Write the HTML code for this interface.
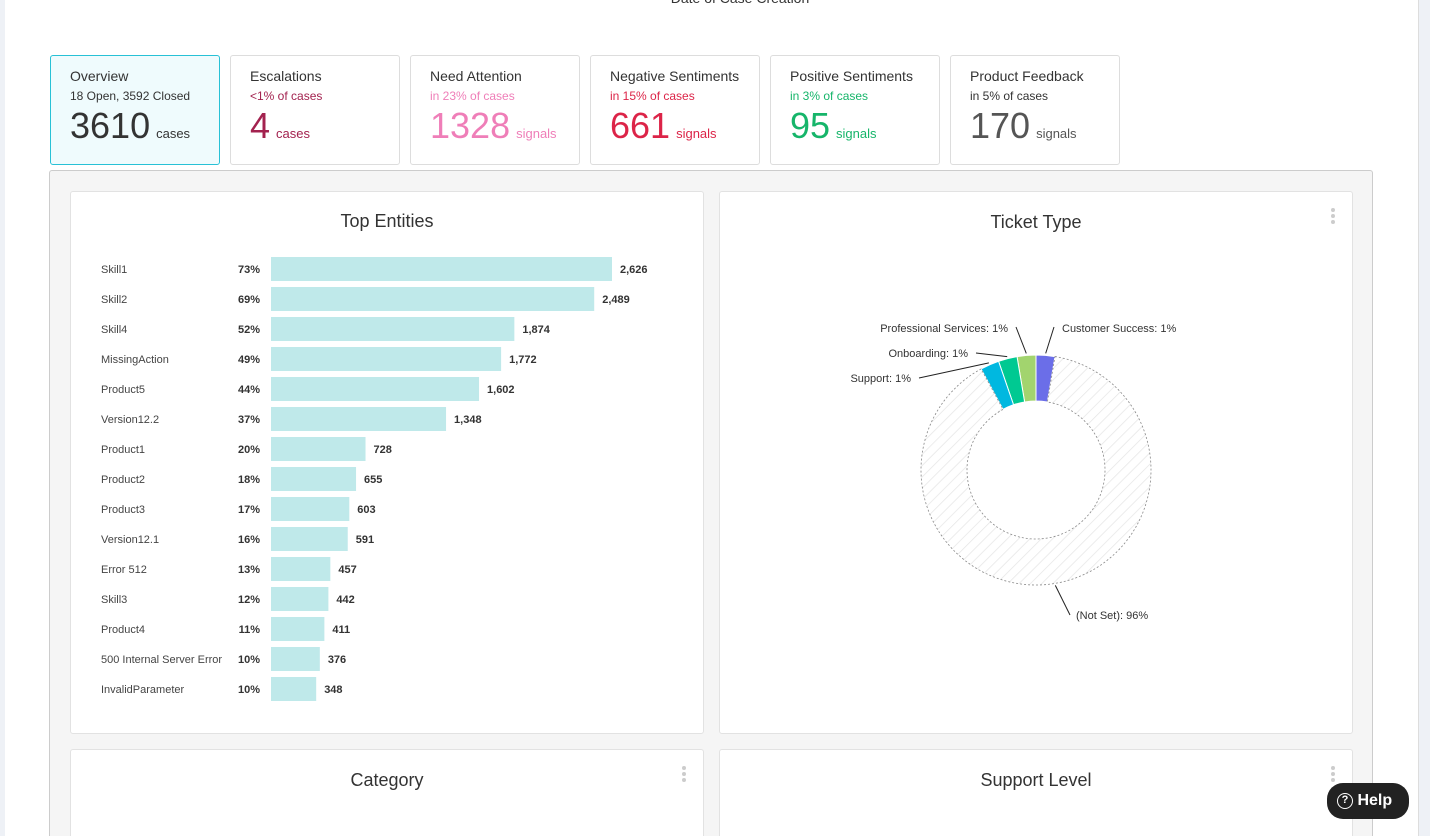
<!DOCTYPE html>
<html style="width:1430px;height:836px;overflow:hidden"><head><meta charset="utf-8">
<style>
*{box-sizing:border-box;margin:0;padding:0}
html,body{width:1430px;height:836px;overflow:hidden}
body{background:#fff;font-family:"Liberation Sans",sans-serif;position:relative;color:#333}
.abs{position:absolute}
.kpi{position:absolute;top:55px;width:170px;height:110px;border:1px solid #ddd;border-radius:3px;background:#fff;padding:12px 0 0 19px}
.kpi .t{font-size:14px;color:#333}
.kpi .s{font-size:12px;margin-top:5px}
.kpi .v{margin-top:3px;font-size:36px;line-height:40px}
.kpi .v span{font-size:13px;margin-left:6px}
.card{position:absolute;background:#fff;border:1px solid #e2e2e2;border-radius:3px}
.ct{position:absolute;width:100%;text-align:center;font-size:18px;color:#333}
.dots{position:absolute;width:4px}
.dots i{display:block;width:4px;height:4px;border-radius:2px;background:#ccc;margin-bottom:2px}
</style></head><body>
<div class="abs" style="left:0;top:0;width:5px;height:836px;background:#eef1f6"></div>
<div class="abs" style="left:1418px;top:0;width:12px;height:836px;background:#eef1f6;border-left:1px solid #ddd"></div>
<div class="abs" style="left:640px;top:-10px;width:200px;text-align:center;font-size:14px">Date of Case Creation</div>

<div class="kpi" style="left:50px;background:#effbfd;border-color:#28c1d6"><div class="t">Overview</div><div class="s" style="color:#333">18 Open, 3592 Closed</div><div class="v" style="color:#333">3610<span>cases</span></div></div>
<div class="kpi" style="left:230px"><div class="t">Escalations</div><div class="s" style="color:#a3224f">&lt;1% of cases</div><div class="v" style="color:#a3224f">4<span>cases</span></div></div>
<div class="kpi" style="left:410px"><div class="t">Need Attention</div><div class="s" style="color:#ef7eb8">in 23% of cases</div><div class="v" style="color:#ef7eb8">1328<span>signals</span></div></div>
<div class="kpi" style="left:590px"><div class="t">Negative Sentiments</div><div class="s" style="color:#dc2448">in 15% of cases</div><div class="v" style="color:#dc2448">661<span>signals</span></div></div>
<div class="kpi" style="left:770px"><div class="t">Positive Sentiments</div><div class="s" style="color:#16b56a">in 3% of cases</div><div class="v" style="color:#16b56a">95<span>signals</span></div></div>
<div class="kpi" style="left:950px"><div class="t">Product Feedback</div><div class="s" style="color:#333">in 5% of cases</div><div class="v" style="color:#555">170<span>signals</span></div></div>

<div class="abs" style="left:49px;top:170px;width:1324px;height:666px;background:#f5f5f5;border:1px solid #ccc;border-bottom:none;border-radius:3px 3px 0 0"></div>

<div class="card" style="left:70px;top:191px;width:634px;height:543px">
<div class="ct" style="top:19px">Top Entities</div>
<svg id="bars" width="634" height="543" style="position:absolute;left:-1px;top:0"></svg>
</div>

<div class="card" style="left:719px;top:191px;width:634px;height:543px">
<div class="ct" style="top:20px">Ticket Type</div>
<div class="dots" style="left:611px;top:16px"><i></i><i></i><i></i></div>
<svg id="donut" width="634" height="543" style="position:absolute;left:0;top:0"></svg>
</div>

<div class="card" style="left:70px;top:749px;width:634px;height:120px">
<div class="ct" style="top:20px">Category</div>
<div class="dots" style="left:611px;top:16px"><i></i><i></i><i></i></div>
</div>
<div class="card" style="left:719px;top:749px;width:634px;height:120px">
<div class="ct" style="top:20px">Support Level</div>
<div class="dots" style="left:611px;top:16px"><i></i><i></i><i></i></div>
</div>

<div class="abs" style="left:1327px;top:783px;width:82px;height:36px;border-radius:16px;background:#222;color:#fff;font-size:16px;font-weight:bold;line-height:36px;padding-left:10px">
<span style="display:inline-block;width:16px;height:16px;border:1.5px solid #fff;border-radius:50%;font-size:11px;line-height:13px;text-align:center;vertical-align:2px">?</span> Help</div>

<script>
const entityLabels=["Skill1","Skill2","Skill4","MissingAction","Product5","Version12.2","Product1","Product2","Product3","Version12.1","Error 512","Skill3","Product4","500 Internal Server Error","InvalidParameter"];
const entityPercents=["73%","69%","52%","49%","44%","37%","20%","18%","17%","16%","13%","12%","11%","10%","10%"];
const entityCounts=[2626,2489,1874,1772,1602,1348,728,655,603,591,457,442,411,376,348];

const ticketLabels=["Customer Success","Professional Services","Onboarding","Support","(Not Set)"];
const ticketValues=[1,1,1,1,96];
const ticketPercents=["1%","1%","1%","1%","96%"];

const NS="http://www.w3.org/2000/svg";
function mk(p,t,a){const e=document.createElementNS(NS,t);for(const k in a)e.setAttribute(k,a[k]);p.appendChild(e);return e;}
const bs=document.getElementById('bars');
const x0=201, maxW=341, maxV=Math.max(...entityCounts);
const xs=v=>v/maxV*maxW;
const ys=i=>77+i*30;
entityLabels.forEach((l,i)=>{
  const y=ys(i);
  let t=mk(bs,'text',{x:31,y:y+4,'font-size':11,fill:'#444'});t.textContent=l;
  
  
  t=mk(bs,'text',{x:190,y:y+4,'font-size':11,'font-weight':'bold',fill:'#333','text-anchor':'end'});t.textContent=entityPercents[i];
  
  
  const w=xs(entityCounts[i]);
  const r=mk(bs,'rect',{x:x0,y:y-12,width:w,height:24,fill:'#bfe9ea'});
  
  
  t=mk(bs,'text',{x:x0+w+8,y:y+4,'font-size':11,'font-weight':'bold',fill:'#333'});t.textContent=entityCounts[i].toLocaleString('en-US');
  
  
});
const ds=document.getElementById('donut');
const defs=mk(ds,'defs',{});
const pat=mk(defs,'pattern',{id:'hatch',width:8,height:8,patternUnits:'userSpaceOnUse',patternTransform:'rotate(45)'});
mk(pat,'line',{x1:0,y1:0,x2:0,y2:8,stroke:'#e6e6e6','stroke-width':1.5});
const cx=316,cy=278,R=115,r0=69;
const colors=["#6b6ee8","#a2d46e","#00c992","#00b8e0","url(#hatch)"];
const total=ticketValues.reduce((a,b)=>a+b,0);
const minA=9.5;
const small=ticketValues.map(v=>v/total*360<minA?minA:null);
const usedSmall=small.reduce((a,b)=>a+(b||0),0);
const bigTot=ticketValues.reduce((a,v,i)=>a+(small[i]?0:v),0);
const angs=ticketValues.map((v,i)=>small[i]||v/bigTot*(360-usedSmall));
function pt(a,rad){const t=(a-90)*Math.PI/180;return [cx+rad*Math.cos(t),cy+rad*Math.sin(t)];}
let starts=[];
starts[0]=0;
let cc=0;
for(let i=1;i<4;i++){cc-=angs[i];starts[i]=cc;}
starts[4]=angs[0];
const labelPos=[[342,140,'start'],[288,140,'end'],[248,165,'end'],[191,190,'end'],[356,427,'start']];
ticketValues.forEach((v,i)=>{
  const a0=starts[i],a1=a0+angs[i];
  const [x1,y1]=pt(a0,R),[x2,y2]=pt(a1,R),[x3,y3]=pt(a1,r0),[x4,y4]=pt(a0,r0);
  const lg=angs[i]>180?1:0;
  const p=mk(ds,'path',{d:`M${x1},${y1}A${R},${R} 0 ${lg} 1 ${x2},${y2}L${x3},${y3}A${r0},${r0} 0 ${lg} 0 ${x4},${y4}Z`,fill:colors[i],stroke:i==4?'#888':'#fff','stroke-width':i==4?0.8:1,'stroke-dasharray':i==4?'2,2':'none'});
  
  
  const mid=(a0+a1)/2;const [lx,ly]=pt(mid,R+2);
  const [tx,ty,anc]=labelPos[i];
  const ex= i==4? tx-6 : (anc=='start'?tx-8:tx+8);
  mk(ds,'line',{x1:lx,y1:ly,x2:ex,y2:ty-(i<2?5:4),stroke:'#222','stroke-width':1});
  const t=mk(ds,'text',{x:tx,y:ty,'font-size':11,fill:'#333','text-anchor':anc});
  t.textContent=ticketLabels[i]+': '+ticketPercents[i];
  
  
});
</script>
</body></html>
